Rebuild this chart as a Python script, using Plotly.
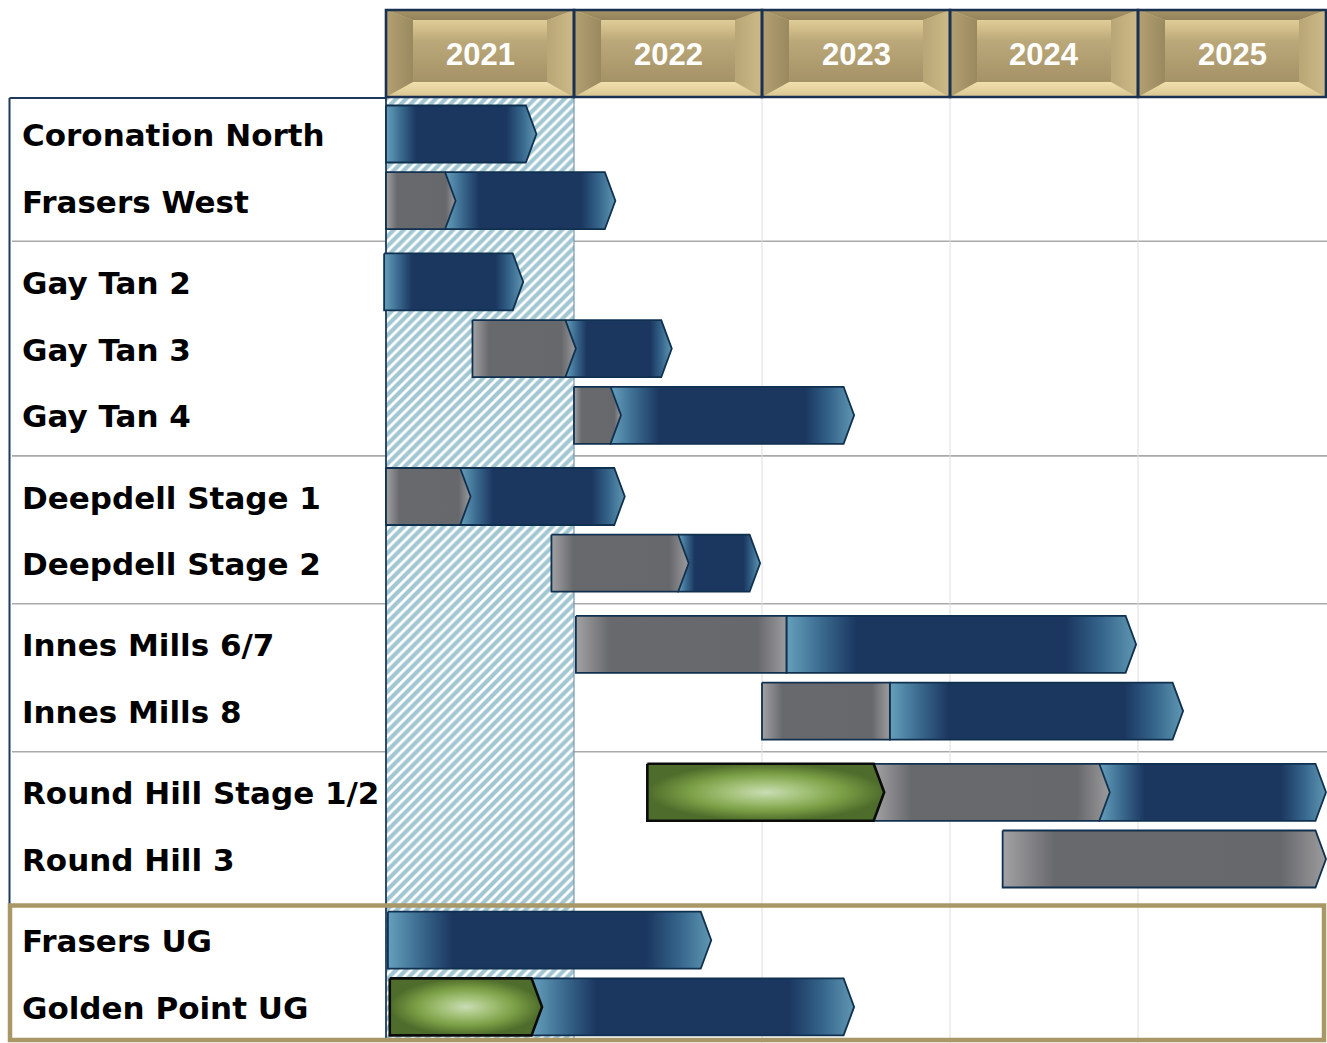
import plotly.graph_objects as go

# ---------------------------------------------------------------------------
# Schedule data
# ---------------------------------------------------------------------------
projects = ["Coronation North", "Frasers West", "Gay Tan 2", "Gay Tan 3", "Gay Tan 4",
            "Deepdell Stage 1", "Deepdell Stage 2", "Innes Mills 6/7", "Innes Mills 8",
            "Round Hill Stage 1/2", "Round Hill 3", "Frasers UG", "Golden Point UG"]
sections = [0, 0, 1, 1, 1, 2, 2, 3, 3, 4, 4, 5, 5]

years = [2021, 2022, 2023, 2024, 2025]
current_year = 2021

# Phase boundaries in fractional years (None = phase not in the plan)
start_year      = [2021.00, 2021.00, 2020.99, 2021.46, 2022.00, 2021.00, 2021.88,
                   2022.01, 2023.00, 2022.39, 2024.28, 2021.01, 2021.02]
study_end       = [None, None, None, None, None, None, None,
                   None, None, 2023.65, None, None, 2021.83]
development_end = [None, 2021.37, None, 2022.01, 2022.25, 2021.45, 2022.61,
                   2023.13, 2023.68, 2024.85, 2026.00, None, None]
mining_end      = [2021.80, 2022.22, 2021.73, 2022.52, 2023.49, 2022.27, 2022.99,
                   2024.99, 2025.24, 2026.00, None, 2022.73, 2023.49]

# Development phases that finish square rather than with an arrow head
square_development = {"Innes Mills 6/7", "Innes Mills 8"}

# ---------------------------------------------------------------------------
# Geometry / styling
# ---------------------------------------------------------------------------
W, H = 1327, 1043
PX_PER_YEAR = 188.0
LEFT_PX = 386.0
X_MIN = current_year - LEFT_PX / PX_PER_YEAR
X_MAX = current_year + (W - LEFT_PX) / PX_PER_YEAR

HEADER_TOP, HEADER_BOTTOM = 10, 97
ROW_TOP, ROW_PITCH, SECTION_GAP = 134.0, 66.7, 14.5
BAR_HALF = 28.5
TIP = 10.5 / PX_PER_YEAR

NAVY = "#1b3760"
OUTLINE = "#10304f"
NO_LINE = dict(color="rgba(0,0,0,0)", width=0)

row_y = [ROW_TOP + i * ROW_PITCH + s * SECTION_GAP for i, s in enumerate(sections)]

phase_style = {
    "study": dict(
        grad=dict(type="radial",
                  colorscale=[[0, "#c9ddb4"], [0.35, "#a0bf74"], [0.65, "#7b9f46"],
                              [1, "#4e6c2b"]]),
        line=dict(color="#0b0b0b", width=2.6)),
    "development": dict(
        grad=dict(type="horizontal",
                  colorscale=[[0, "#a2a2a4"], [0.16, "#68696d"], [0.86, "#67686c"],
                              [1, "#9c9c9e"]]),
        line=dict(color=OUTLINE, width=1.8)),
    "mining": dict(
        grad=dict(type="horizontal",
                  colorscale=[[0, "#65a0bc"], [0.1, "#3b6a8f"], [0.2, NAVY], [0.8, NAVY],
                              [0.9, "#35648b"], [1, "#5f97b2"]]),
        line=dict(color=OUTLINE, width=1.8)),
}

fig = go.Figure()

# Hatched band for the current year
band_top, band_bottom = HEADER_BOTTOM + 1, H - 3
fig.add_trace(go.Bar(
    x=[current_year + 0.5], width=[1], base=[band_top], y=[band_bottom - band_top],
    marker=dict(color="white", line=dict(width=0),
                pattern=dict(shape="/", fgcolor="#4690a8", bgcolor="white",
                             size=7, solidity=0.6)),
    hoverinfo="skip", showlegend=False))

# Band edges (kept underneath the phase bars)
fig.add_trace(go.Scatter(x=[current_year + 1, current_year + 1], y=[band_top, band_bottom],
                         mode="lines", line=dict(color="#7a97ad", width=1.2),
                         hoverinfo="skip", showlegend=False))
fig.add_trace(go.Scatter(x=[current_year, current_year], y=[band_top, band_bottom],
                         mode="lines", line=dict(color="#1d3a5e", width=1.8),
                         hoverinfo="skip", showlegend=False))


def add_poly(xs, ys, grad, line):
    fig.add_trace(go.Scatter(
        x=xs, y=ys, mode="lines", fill="toself", fillgradient=grad, line=line,
        hoverinfo="skip", showlegend=False))


# Phase bars (later phases first so earlier arrow heads sit on top)
for i, name in enumerate(projects):
    y = row_y[i]
    phases = []
    for kind, end in (("study", study_end[i]), ("development", development_end[i]),
                      ("mining", mining_end[i])):
        if end is not None:
            pointed = not (kind == "development" and name in square_development)
            phases.append((kind, end, pointed))
    segs = []
    x0 = start_year[i]
    for kind, end, pointed in phases:
        segs.append((kind, x0, end, pointed))
        x0 = end - TIP if pointed else end
    for kind, a, b, pointed in reversed(segs):
        t = TIP if pointed else 0
        xs = [a, b - t, b, b - t, a, a]
        ys = [y - BAR_HALF, y - BAR_HALF, y, y + BAR_HALF, y + BAR_HALF, y - BAR_HALF]
        st = phase_style[kind]
        add_poly(xs, ys, st["grad"], st["line"])

# Year header tiles with a bevelled look
BEV_X = 27 / PX_PER_YEAR
BEV_TOP, BEV_BOT = 10, 15
for yr in years:
    a, b = yr, yr + 1
    t, u = HEADER_TOP, HEADER_BOTTOM
    add_poly([a, b, b, a, a], [t, t, u, u, t],
             dict(type="vertical",
                  colorscale=[[0, "#9d8c62"], [0.3, "#aa986c"], [0.65, "#bca97a"],
                              [0.82, "#d6c38e"], [1, "#efdfab"]]), NO_LINE)
    # left bevel
    add_poly([a, a + BEV_X, a + BEV_X, a, a], [t, t + BEV_TOP, u - BEV_BOT, u, t],
             dict(type="horizontal", colorscale=[[0, "#b3a173"], [1, "#9a895f"]]), NO_LINE)
    # right bevel
    add_poly([b, b - BEV_X, b - BEV_X, b, b], [t, t + BEV_TOP, u - BEV_BOT, u, t],
             dict(type="horizontal", colorscale=[[0, "#b9a677"], [1, "#cdba88"]]), NO_LINE)
    # bottom bevel
    add_poly([a, a + BEV_X, b - BEV_X, b, a], [u, u - BEV_BOT, u - BEV_BOT, u, u],
             dict(type="vertical", colorscale=[[0, "#d9c692"], [1, "#f0e0ad"]]), NO_LINE)
    # top bevel
    add_poly([a, a + BEV_X, b - BEV_X, b, a], [t, t + BEV_TOP, t + BEV_TOP, t, t],
             dict(type="vertical", colorscale=[[0, "#93825a"], [1, "#a69468"]]), NO_LINE)

shapes = []
# vertical year gridlines
for yr in years[2:]:
    shapes.append(dict(type="line", x0=yr, x1=yr, y0=HEADER_BOTTOM, y1=H,
                       line=dict(color="#dedede", width=1), layer="below"))
# section separators
for s in range(4):
    last = max(i for i, v in enumerate(sections) if v == s)
    yy = (row_y[last] + row_y[last + 1]) / 2
    shapes.append(dict(type="line", xref="paper", x0=12 / W, x1=1, y0=yy, y1=yy,
                       line=dict(color="#a9a9a9", width=1.6), layer="below"))
# label column frame
gold_top = (row_y[10] + row_y[11]) / 2 + 6
shapes.append(dict(type="line", xref="paper", x0=9.5 / W, x1=9.5 / W,
                   y0=HEADER_BOTTOM + 1, y1=gold_top, line=dict(color="#1d3a5e", width=2)))
shapes.append(dict(type="line", xref="paper", x0=9.5 / W, x1=LEFT_PX / W,
                   y0=HEADER_BOTTOM + 1, y1=HEADER_BOTTOM + 1,
                   line=dict(color="#1d3a5e", width=2)))
# header tile borders
for yr in years:
    shapes.append(dict(type="rect", x0=yr, x1=yr + 1, y0=HEADER_TOP, y1=HEADER_BOTTOM,
                       line=dict(color="#1b3152", width=2.6)))
# highlighted underground section
shapes.append(dict(type="rect", xref="paper", x0=10 / W, x1=1324 / W,
                   y0=gold_top, y1=H - 3, line=dict(color="#a99867", width=4.5)))

annotations = []
for yr in years:
    annotations.append(dict(x=yr + 0.5, y=(HEADER_TOP + HEADER_BOTTOM) / 2 + 1,
                            text=str(yr), showarrow=False,
                            font=dict(family="Liberation Sans, Arial", size=31,
                                      color="white", weight="bold")))
for i, name in enumerate(projects):
    annotations.append(dict(xref="paper", x=20 / W, y=row_y[i] + 1, text=name,
                            xanchor="left", showarrow=False,
                            font=dict(family="DejaVu Sans", size=31, color="black",
                                      weight="bold")))

fig.update_layout(
    width=W, height=H, margin=dict(l=0, r=0, t=0, b=0),
    paper_bgcolor="white", plot_bgcolor="white",
    xaxis=dict(range=[X_MIN, X_MAX], visible=False, fixedrange=True),
    yaxis=dict(range=[H, 0], visible=False, fixedrange=True),
    shapes=shapes, annotations=annotations, showlegend=False, bargap=0,
)

fig.write_html("out.html")
